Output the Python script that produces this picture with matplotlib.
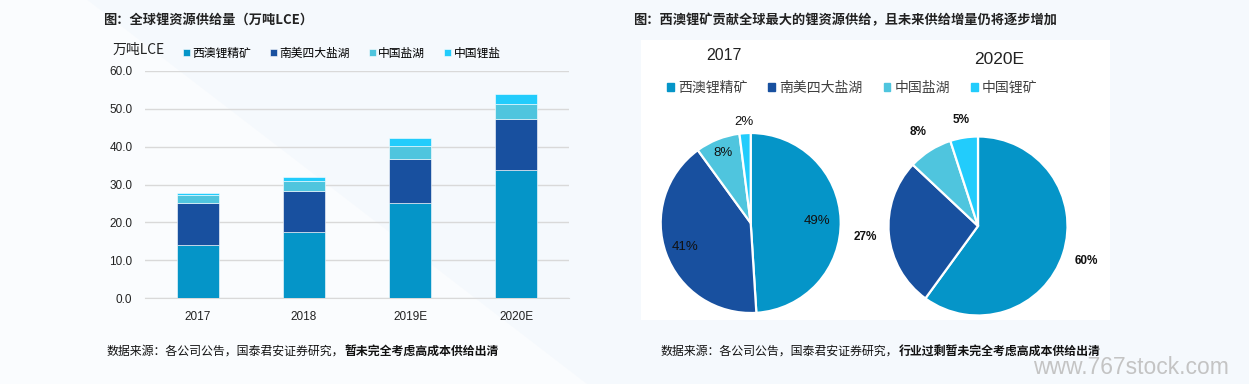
import matplotlib.pyplot as plt
import matplotlib.patches as mpatches
import numpy as np

plt.rcParams['font.family'] = ['Noto Sans CJK SC', 'DejaVu Sans']

# bar chart data (万吨LCE)
years = ['2017', '2018', '2019E', '2020E']
series_names = ['西澳锂精矿', '南美四大盐湖', '中国盐湖', '中国锂盐']
wa_spodumene = [14.0, 17.5, 25.1, 33.7]
sa_brine = [11.0, 10.8, 11.5, 13.6]
cn_brine = [2.2, 2.5, 3.5, 4.0]
cn_salt = [0.5, 1.3, 2.1, 2.6]
yticks = [0, 10, 20, 30, 40, 50, 60]

# pie data (%)
pie_names = ['西澳锂精矿', '南美四大盐湖', '中国盐湖', '中国锂矿']
share_2017 = [49, 41, 8, 2]
share_2020 = [60, 27, 8, 5]

colors = ['#0595C8', '#18509F', '#4FC5DE', '#22CCFC']
bg = '#f5f9fd'

fig = plt.figure(figsize=(12.49, 3.84), dpi=100)
fig.patch.set_facecolor(bg)

# faint background shapes
fig.patches.append(mpatches.Polygon([[0.0, 1.0], [0.07, 1.0], [0.47, 0.0], [0.0, 0.0]],
                                    closed=True, transform=fig.transFigure,
                                    facecolor='#fafcfe', edgecolor='none', zorder=-5))
fig.patches.append(mpatches.Rectangle((641 / 1249, 1 - 320 / 384), 469 / 1249, 280 / 384,
                                      transform=fig.transFigure, facecolor='white',
                                      edgecolor='none', zorder=-4))

# ---- stacked bars ----
ax = fig.add_axes([145 / 1249, 1 - 298.3 / 384, 424 / 1249, 227.6 / 384])
ax.set_facecolor('none')
x = np.arange(len(years))
bottom = np.zeros(len(years))
for vals, c, name in zip([wa_spodumene, sa_brine, cn_brine, cn_salt], colors, series_names):
    ax.bar(x, vals, width=0.4, bottom=bottom, color=c, label=name,
           edgecolor='white', linewidth=0.4, zorder=3)
    bottom += np.array(vals)
ax.set_xlim(-0.5, 3.5)
ax.set_ylim(0, 60)
ax.set_yticks(yticks)
ax.set_yticklabels(['%.1f' % v for v in yticks], family=['Liberation Sans'], fontsize=8.5)
ax.set_xticks(x)
ax.set_xticklabels(years, family=['Liberation Sans'], fontsize=8.5)
ax.grid(axis='y', color='#d9d9d9', linewidth=1, zorder=0)
for s in ax.spines.values():
    s.set_visible(False)
ax.spines['bottom'].set_visible(True)
ax.spines['bottom'].set_color('#d9d9d9')
ax.tick_params(length=0, pad=9, colors='#222222')

fig.text(113 / 1249, 1 - 50 / 384, '万吨LCE', fontsize=10, va='center', color='#222222')
fig.legend(*ax.get_legend_handles_labels(), loc='center left',
           bbox_to_anchor=(183 / 1249, 1 - 53 / 384), ncol=4, frameon=False,
           fontsize=8.5, handlelength=0.6, handleheight=0.6, handletextpad=0.2,
           columnspacing=1.6, borderaxespad=0, borderpad=0)

fig.text(103 / 1249, 1 - 20 / 384, '图：全球锂资源供给量（万吨LCE）', fontsize=9.5,
         fontweight='bold', va='center', color='#222222')
fig.text(633 / 1249, 1 - 20 / 384, '图：西澳锂矿贡献全球最大的锂资源供给，且未来供给增量仍将逐步增加',
         fontsize=9.5, fontweight='bold', va='center', color='#222222')

# ---- pies ----
def draw_pie(cx, cy, r, shares, dists, bold):
    half = r * 1.25
    pax = fig.add_axes([(cx - half) / 1249, 1 - (cy + half) / 384, 2 * half / 1249, 2 * half / 384])
    wedges, _ = pax.pie(shares, colors=colors, startangle=90, counterclock=False,
                        wedgeprops=dict(edgecolor='white', linewidth=1.6))
    for w, v, d in zip(wedges, shares, dists):
        a = np.deg2rad((w.theta1 + w.theta2) / 2)
        pax.text(d * np.cos(a), d * np.sin(a), '%d%%' % v, ha='center', va='center',
                 fontsize=8.5 if bold else 9.5, fontweight='bold' if bold else 'normal',
                 family=['Liberation Sans'], color='#111111')
    return pax

draw_pie(750.7, 223, 90, share_2017, [0.74, 0.78, 0.84, 1.12], False)
draw_pie(978, 226, 89.5, share_2020, [1.27, 1.26, 1.24, 1.2], True)

fig.text(724 / 1249, 1 - 55 / 384, '2017', fontsize=11.5, ha='center', va='center',
         family=['Liberation Sans'], color='#222222')
fig.text(999 / 1249, 1 - 60 / 384, '2020E', fontsize=12.5, ha='center', va='center',
         family=['Liberation Sans'], color='#222222')
pie_handles = [mpatches.Patch(color=c) for c in colors]
fig.legend(pie_handles, pie_names, loc='center left',
           bbox_to_anchor=(667 / 1249, 1 - 88 / 384), ncol=4, frameon=False,
           fontsize=10, handlelength=0.5, handleheight=0.5, handletextpad=0.3,
           columnspacing=1.5, borderaxespad=0, borderpad=0, labelcolor='#404040')

# ---- sources: normal part, then bold part right after it ----
src_y = 1 - 351 / 384
sources = [(107, '数据来源：各公司公告，国泰君安证券研究，', '暂未完全考虑高成本供给出清'),
           (661, '数据来源：各公司公告，国泰君安证券研究，', '行业过剩暂未完全考虑高成本供给出清')]
for x0, plain, bold_part in sources:
    t = fig.text(x0 / 1249, src_y, plain, fontsize=8.6, va='center', color='#111111')
    ax.annotate(bold_part, xy=(1.0, 0.5), xycoords=t, va='center', ha='left',
                fontsize=8.6, fontweight='bold', color='#111111', annotation_clip=False)

fig.text(1033 / 1249, 1 - 367 / 384, 'www.767stock.com', fontsize=16.5, va='center',
         family=['Liberation Sans'], color='#c4c4c4')

fig.savefig('out.png', dpi=100, facecolor=fig.get_facecolor())
